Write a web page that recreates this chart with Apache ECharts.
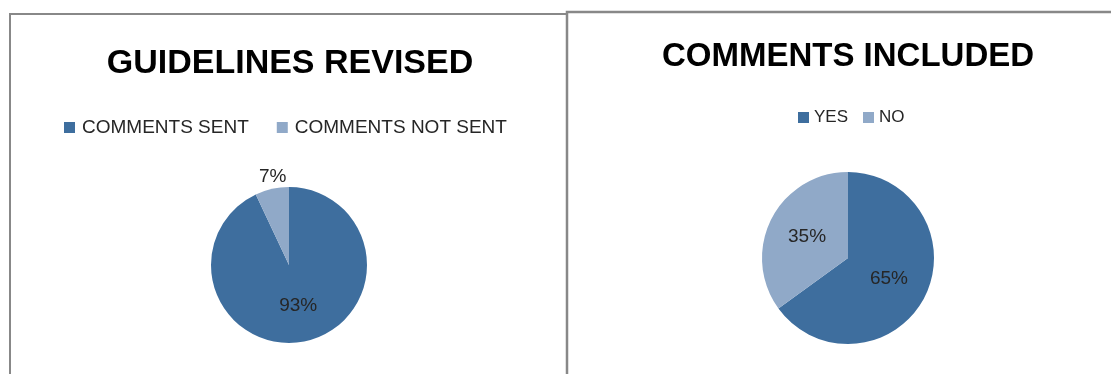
<!DOCTYPE html>
<html>
<head>
<meta charset="utf-8">
<title>Guidelines revised / Comments included</title>
<script src="https://cdn.jsdelivr.net/npm/echarts@6/dist/echarts.min.js"></script>
<style>
  html, body { margin: 0; padding: 0; background: #fff; }
  #chart { width: 1111px; height: 374px; }
</style>
</head>
<body>
<div id="chart"></div>
<script>
// 左图：指南修订
const revisedNames = ['COMMENTS SENT', 'COMMENTS NOT SENT'];
const revisedValues = [93, 7];

// 右图：意见采纳
const includedNames = ['YES', 'NO'];
const includedValues = [65, 35];

const darkBlue = '#3e6e9e';
const lightBlue = '#90a9c8';
const textColor = '#262626';

const chart = echarts.init(document.getElementById('chart'), null, { renderer: 'canvas' });

function pieData(names, values) {
  return names.map(function (name, i) {
    return { name: name, value: values[i] };
  });
}

const leftData = pieData(revisedNames, revisedValues);
// 7% 那块标签放在饼外面，靠近扇区上方
leftData[1].label = { position: 'outside' };
leftData[1].labelLine = { show: false, length: 12, length2: -22 };

const option = {
  animation: false,
  color: [darkBlue, lightBlue],
  title: [
    {
      text: 'GUIDELINES REVISED',
      left: 285, top: 42, textAlign: 'center',
      textStyle: { fontFamily: 'Liberation Sans', fontWeight: 'bold', fontSize: 34, color: '#000' }
    },
    {
      text: 'COMMENTS INCLUDED',
      left: 843, top: 35, textAlign: 'center',
      textStyle: { fontFamily: 'Liberation Sans', fontWeight: 'bold', fontSize: 33, color: '#000' }
    }
  ],
  legend: [
    {
      data: revisedNames,
      left: 59, top: 113,
      icon: 'rect', itemWidth: 11, itemHeight: 11, itemGap: 28,
      selectedMode: false,
      textStyle: { fontFamily: 'Liberation Sans', fontSize: 19, color: textColor, padding: [0, 0, 0, 2] }
    },
    {
      data: includedNames,
      left: 793, top: 104,
      icon: 'rect', itemWidth: 11, itemHeight: 11, itemGap: 15,
      selectedMode: false,
      textStyle: { fontFamily: 'Liberation Sans', fontSize: 17, color: textColor }
    }
  ],
  graphic: [
    {
      type: 'rect', z: -1,
      shape: { x: 10, y: 14, width: 557, height: 400 },
      style: { fill: 'none', stroke: '#888', lineWidth: 2 }
    },
    {
      type: 'rect', z: -1,
      shape: { x: 567, y: 12, width: 600, height: 400 },
      style: { fill: 'none', stroke: '#888', lineWidth: 2.5 }
    }
  ],
  series: [
    {
      name: 'GUIDELINES REVISED',
      type: 'pie',
      center: [289, 265],
      radius: 78,
      startAngle: 90,
      clockwise: true,
      data: leftData,
      itemStyle: { borderWidth: 0 },
      label: {
        position: 'inside',
        formatter: '{d}%',
        fontFamily: 'Liberation Sans', fontSize: 19, color: textColor
      },
      labelLine: { show: false },
      emphasis: { disabled: true }
    },
    {
      name: 'COMMENTS INCLUDED',
      type: 'pie',
      center: [848, 258],
      radius: 86,
      startAngle: 90,
      clockwise: true,
      data: pieData(includedNames, includedValues),
      itemStyle: { borderWidth: 0 },
      label: {
        position: 'inside',
        formatter: '{d}%',
        fontFamily: 'Liberation Sans', fontSize: 19, color: textColor
      },
      labelLine: { show: false },
      emphasis: { disabled: true }
    }
  ]
};

chart.setOption(option);

window.addEventListener('resize', function () {
  chart.resize();
});
</script>
</body>
</html>
